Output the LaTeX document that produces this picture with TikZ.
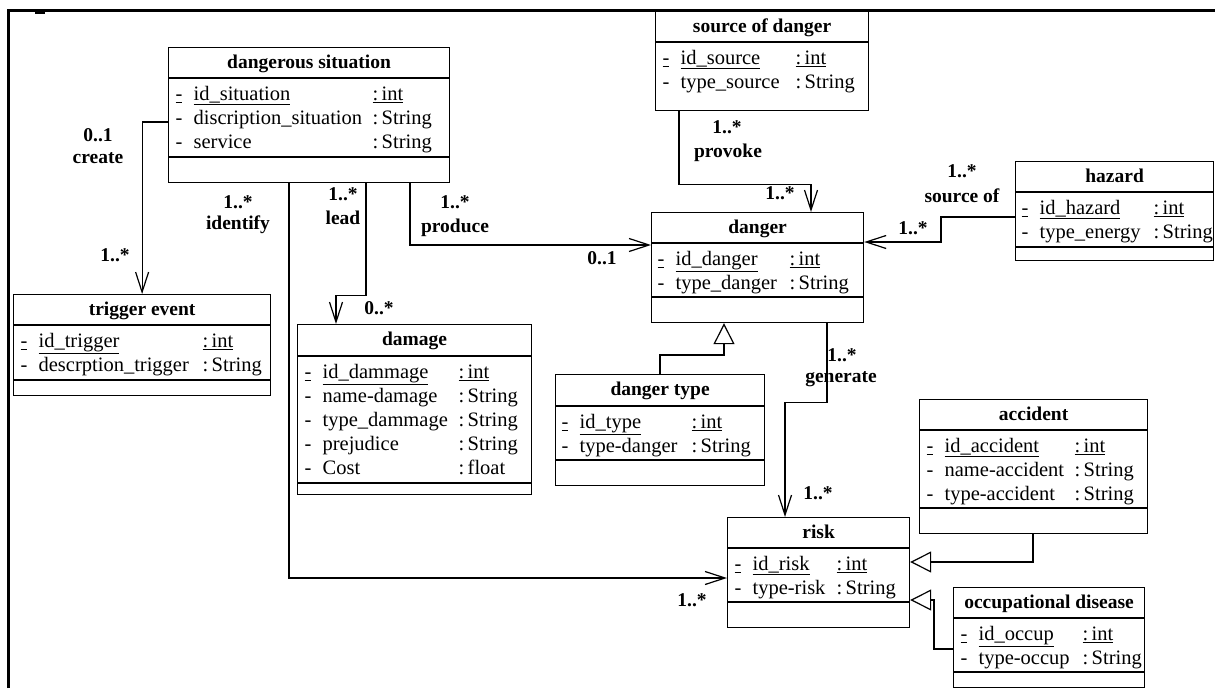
\documentclass[tikz,border=0pt]{standalone}
\usepackage{fontspec}
\setmainfont{Liberation Serif}
\usetikzlibrary{arrows.meta,calc}

% name, x, y, width, height, header rule, second rule (0 = none), title
\newcommand{\umlclass}[8]{%
  \node[class box, minimum width=#4pt, minimum height=#5pt] (#1) at (#2,#3) {};
  \draw ([yshift=-#6pt]#1.north west) -- ([yshift=-#6pt]#1.north east);
  \ifnum#7>0\relax \draw ([yshift=-#7pt]#1.north west) -- ([yshift=-#7pt]#1.north east);\fi
  \node[class title] (#1-title) at ([yshift=-21.5pt]#1.north) {#8};
}
\newcommand{\attrs}[2]{\begin{tabular}{@{}p{18pt}@{}p{#1pt}@{}l@{}}#2\end{tabular}}

\begin{document}
\begin{tikzpicture}[x=1pt,y=-1pt,line width=1.2pt,
    class box/.style={draw,anchor=north west,inner sep=0pt},
    class title/.style={anchor=base,inner sep=0pt,font=\fontsize{19.5}{23}\selectfont\bfseries},
    class attrs/.style={anchor=north west,inner sep=0pt,font=\fontsize{20.5}{24}\selectfont},
    mult/.style={inner sep=0pt,font=\fontsize{19.5}{23}\selectfont\bfseries},
    assoc/.style={-{Straight Barb[length=20pt,width=13pt]}},
    inherit/.style={-{Triangle[open,length=21pt,width=21pt]}}]

  \useasboundingbox (0,0) rectangle (1215,688);
  \draw[line width=3pt] (8,688) -- (8,10) -- (1215,10);
  \draw[line width=1.5pt] (35,13) -- (45,13);

  % classes
  \umlclass{ds}{168}{47}{281}{135}{31}{110}{dangerous situation}
  \node[class attrs] (ds-attrs) at ([shift={(7pt,-36pt)}]ds.north west)
    {\attrs{179}{\underline{-} & \underline{id\_situation} & \underline{:\,int}\\
                 - & discription\_situation & :\,String\\
                 - & service & :\,String}};

  \umlclass{src}{655}{11}{213}{99}{31}{0}{source of danger}
  \node[class attrs] (src-attrs) at ([shift={(7pt,-36pt)}]src.north west)
    {\attrs{115}{\underline{-} & \underline{id\_source} & \underline{:\,int}\\
                 - & type\_source & :\,String}};

  \umlclass{dg}{651}{212}{212}{110}{31}{85}{danger}
  \node[class attrs] (dg-attrs) at ([shift={(6pt,-36pt)}]dg.north west)
    {\attrs{114}{\underline{-} & \underline{id\_danger} & \underline{:\,int}\\
                 - & type\_danger & :\,String}};

  \umlclass{hz}{1015}{161}{198}{99}{31}{86}{hazard}
  \node[class attrs] (hz-attrs) at ([shift={(6pt,-36pt)}]hz.north west)
    {\attrs{114}{\underline{-} & \underline{id\_hazard} & \underline{:\,int}\\
                 - & type\_energy & :\,String}};

  \umlclass{te}{13}{294}{257}{101}{31}{86}{trigger event}
  \node[class attrs] (te-attrs) at ([shift={(7pt,-36pt)}]te.north west)
    {\attrs{164}{\underline{-} & \underline{id\_trigger} & \underline{:\,int}\\
                 - & descrption\_trigger & :\,String}};

  \umlclass{dm}{297}{324}{234}{170}{32}{159}{damage}
  \node[class attrs] (dm-attrs) at ([shift={(7pt,-37pt)}]dm.north west)
    {\attrs{136}{\underline{-} & \underline{id\_dammage} & \underline{:\,int}\\
                 - & name-damage & :\,String\\
                 - & type\_dammage & :\,String\\
                 - & prejudice & :\,String\\
                 - & Cost & :\,float}};

  \umlclass{dt}{555}{374}{209}{111}{32}{86}{danger type}
  \node[class attrs] (dt-attrs) at ([shift={(6pt,-37pt)}]dt.north west)
    {\attrs{112}{\underline{-} & \underline{id\_type} & \underline{:\,int}\\
                 - & type-danger & :\,String}};

  \umlclass{ac}{919}{399}{228}{134}{31}{109}{accident}
  \node[class attrs] (ac-attrs) at ([shift={(7pt,-36pt)}]ac.north west)
    {\attrs{130}{\underline{-} & \underline{id\_accident} & \underline{:\,int}\\
                 - & name-accident & :\,String\\
                 - & type-accident & :\,String}};

  \umlclass{rk}{727}{517}{182}{110}{31}{85}{risk}
  \node[class attrs] (rk-attrs) at ([shift={(7pt,-36pt)}]rk.north west)
    {\attrs{84}{\underline{-} & \underline{id\_risk} & \underline{:\,int}\\
                - & type-risk & :\,String}};

  \umlclass{od}{953}{587}{191}{100}{31}{85}{occupational disease}
  \node[class attrs] (od-attrs) at ([shift={(7pt,-36pt)}]od.north west)
    {\attrs{104}{\underline{-} & \underline{id\_occup} & \underline{:\,int}\\
                 - & type-occup & :\,String}};

  % associations
  \draw[assoc] ($(ds.north west)+(0,75)$) -| (te.north);
  \draw[assoc] ($(ds.south west)+(121,0)$) |- ($(rk.north west)+(0,61)$);
  \draw[assoc] ($(ds.south west)+(198,0)$) -- ++(0,112) -| ($(dm.north west)+(39,0)$);
  \draw[assoc] ($(ds.south west)+(242,0)$) |- ($(dg.north west)+(0,33)$);
  \draw[assoc] ($(src.south west)+(24,0)$) -- ++(0,73) -| ($(dg.north west)+(160,0)$);
  \draw[assoc] ($(hz.north west)+(0,56)$) -- ++(-74,0) |- ($(dg.north east)+(0,30)$);
  \draw[assoc] ($(dg.south west)+(176,0)$) -- ++(0,79) -| ($(rk.north west)+(58,0)$);

  % generalisations
  \draw[inherit] ($(dt.north west)+(105,0)$) -- ++(0,-19) -| ($(dg.south west)+(73,0)$);
  \draw[inherit] ($(ac.south west)+(114,0)$) |- ($(rk.north east)+(0,45)$);
  \draw[inherit] ($(od.north west)+(0,62)$) -- ++(-19,0) |- ($(rk.north east)+(0,83)$);

  % multiplicities and roles
  \node[mult] (create-src) at (98,135) {0..1};
  \node[mult] (create-lbl) at (98,158) {create};
  \node[mult] (create-dst) at (115,255) {1..*};
  \node[mult] (identify-src) at (238,202) {1..*};
  \node[mult] (identify-lbl) at (238,225) {identify};
  \node[mult] (identify-dst) at (692,600) {1..*};
  \node[mult] (lead-src) at (343,194) {1..*};
  \node[mult] (lead-lbl) at (343,218) {lead};
  \node[mult] (lead-dst) at (379,308) {0..*};
  \node[mult] (produce-src) at (455,202) {1..*};
  \node[mult] (produce-lbl) at (455,228) {produce};
  \node[mult] (produce-dst) at (602,258) {0..1};
  \node[mult] (provoke-src) at (727,127) {1..*};
  \node[mult] (provoke-lbl) at (728,153) {provoke};
  \node[mult] (provoke-dst) at (780,193) {1..*};
  \node[mult] (sourceof-src) at (962,171) {1..*};
  \node[mult] (sourceof-lbl) at (962,196) {source of};
  \node[mult] (sourceof-dst) at (913,228) {1..*};
  \node[mult] (generate-src) at (842,355) {1..*};
  \node[mult] (generate-lbl) at (841,379) {generate};
  \node[mult] (generate-dst) at (818,493) {1..*};
\end{tikzpicture}
\end{document}
